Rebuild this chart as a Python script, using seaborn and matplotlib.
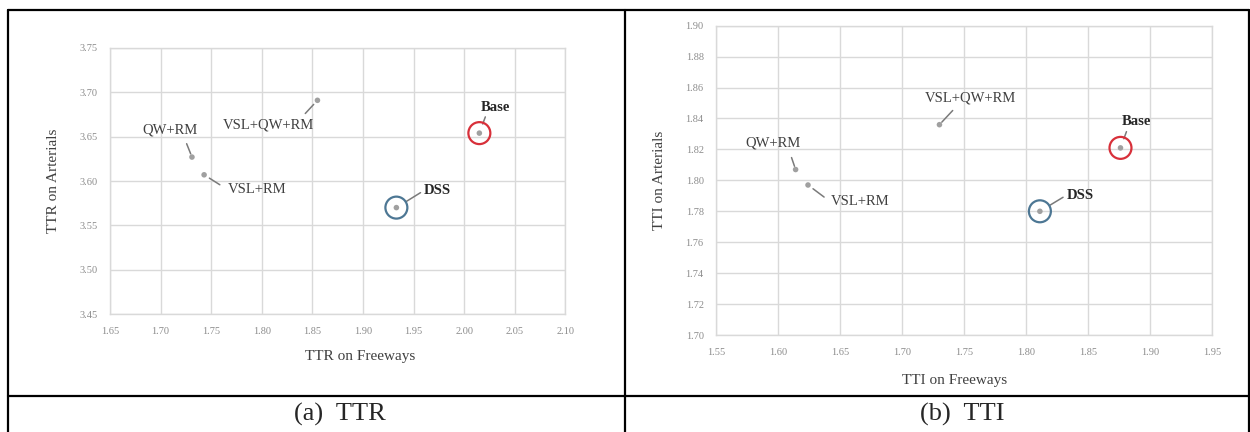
import matplotlib
matplotlib.use("Agg")
import matplotlib.pyplot as plt
import seaborn as sns
import pandas as pd
from matplotlib.lines import Line2D

# Datos
strategies = ['QW+RM', 'VSL+RM', 'VSL+QW+RM', 'DSS', 'Base']
ttr_freeways = [1.731, 1.743, 1.855, 1.933, 2.015]
ttr_arterials = [3.627, 3.607, 3.691, 3.570, 3.654]
tti_freeways = [1.614, 1.624, 1.730, 1.811, 1.876]
tti_arterials = [1.807, 1.797, 1.836, 1.780, 1.821]

ttr_xticks = [1.65, 1.70, 1.75, 1.80, 1.85, 1.90, 1.95, 2.00, 2.05, 2.10]
ttr_yticks = [3.45, 3.50, 3.55, 3.60, 3.65, 3.70, 3.75]
tti_xticks = [1.55, 1.60, 1.65, 1.70, 1.75, 1.80, 1.85, 1.90, 1.95]
tti_yticks = [1.70, 1.72, 1.74, 1.76, 1.78, 1.80, 1.82, 1.84, 1.86, 1.88, 1.90]

highlight = {'Base': '#d8303a', 'DSS': '#4d7794'}

sns.set_style('white')
plt.rcParams['font.family'] = ['Liberation Serif', 'DejaVu Serif']

# posicion de etiquetas: desplazamiento (px), relpos de la linea, shrinkA, shrinkB
ttr_labels = {
    'QW+RM': ((-22, 27), (0.75, 0.0), 3, 2.5),
    'VSL+RM': ((53, -15), (0.0, 0.5), 4, 4.5),
    'VSL+QW+RM': ((-49, -25), (0.85, 1.0), 2, 4),
    'DSS': ((41, 17), (0.0, 0.5), 0, 8.5),
    'Base': ((16, 26), (0.2, 0.0), 0, 7),
}
tti_labels = {
    'QW+RM': ((-23, 27), (0.79, 0.0), 4, 2.5),
    'VSL+RM': ((52, -17), (0.0, 0.5), 3, 4.5),
    'VSL+QW+RM': ((31, 27), (0.37, 0.0), 3, 2.5),
    'DSS': ((40, 16), (0.0, 0.5), 0, 8.5),
    'Base': ((16, 26), (0.2, 0.0), 0, 7),
}


def draw_panel(ax, x, y, xticks, yticks, xlabel, ylabel, label_cfg, xlab_pos):
    df = pd.DataFrame({'x': x, 'y': y, 'name': strategies})
    sns.scatterplot(data=df, x='x', y='y', ax=ax, color='#a0a0a0', s=16,
                    edgecolor='none', zorder=3)
    hl = df[df['name'].isin(highlight.keys())]
    for _, r in hl.iterrows():
        ax.scatter(r['x'], r['y'], s=250, facecolors='none',
                   edgecolors=highlight[r['name']], linewidths=1.6, zorder=4)
    for _, r in df.iterrows():
        off, rel, sa, sb = label_cfg[r['name']]
        bold = r['name'] in highlight
        ax.annotate(r['name'], xy=(r['x'], r['y']), xytext=off,
                    textcoords='offset pixels', ha='center', va='center',
                    fontsize=10.5, color='#262626' if bold else '#404040',
                    fontweight='bold' if bold else 'normal',
                    arrowprops=dict(arrowstyle='-', color='#7a7a7a', lw=1.1,
                                    relpos=rel, shrinkA=sa, shrinkB=sb))
    ax.set_xlim(xticks[0], xticks[-1])
    ax.set_ylim(yticks[0], yticks[-1])
    ax.set_xticks(xticks)
    ax.set_yticks(yticks)
    ax.set_xticklabels([f'{v:.2f}' for v in xticks])
    ax.set_yticklabels([f'{v:.2f}' for v in yticks])
    ax.tick_params(length=0, labelsize=7.5, labelcolor='#8c8c8c', pad=9)
    ax.grid(True, color='#d9d9d9', lw=1)
    for sp in ax.spines.values():
        sp.set_color('#d9d9d9')
        sp.set_linewidth(1)
    ax.set_xlabel(xlabel, fontsize=11, color='#404040', labelpad=12)
    ax.xaxis.set_label_coords(xlab_pos, -0.135 if ax is ax1 else -0.125)
    ax.set_ylabel(ylabel, fontsize=11, color='#404040', labelpad=14)


fig = plt.figure(figsize=(12.5, 4.32), dpi=100)
ax1 = fig.add_axes([0.088, 0.2731, 0.3643, 0.6158])
ax2 = fig.add_axes([0.573, 0.2245, 0.3968, 0.716])

draw_panel(ax1, ttr_freeways, ttr_arterials, ttr_xticks, ttr_yticks,
           'TTR on Freeways', 'TTR on Arterials', ttr_labels, 0.55)
draw_panel(ax2, tti_freeways, tti_arterials, tti_xticks, tti_yticks,
           'TTI on Freeways', 'TTI on Arterials', tti_labels, 0.48)

# bordes de la tabla
W, H = 1250, 432
def fl(x0, y0, x1, y1):
    fig.add_artist(Line2D([x0 / W, x1 / W], [1 - y0 / H, 1 - y1 / H],
                          color='black', lw=1.6, transform=fig.transFigure))

fl(8, 10, 1249, 10)
fl(8, 10, 8, 432)
fl(625, 10, 625, 432)
fl(1249, 10, 1249, 432)
fl(8, 396, 1249, 396)

fig.text(340 / W, 1 - 414 / H, '(a)  TTR', ha='center', va='center', fontsize=19)
fig.text(962 / W, 1 - 414 / H, '(b)  TTI', ha='center', va='center', fontsize=19)

fig.savefig('out.png', dpi=100)
